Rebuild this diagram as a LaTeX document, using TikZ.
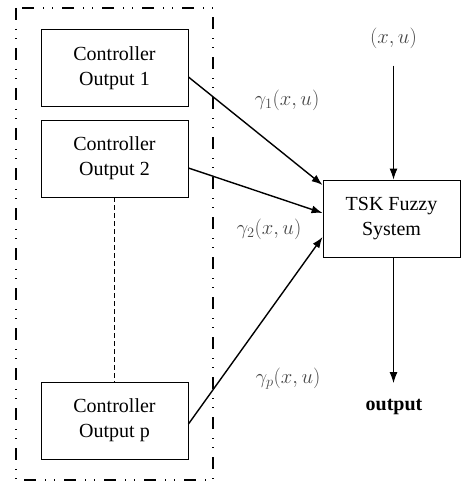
\documentclass[tikz,border=0pt]{standalone}
\usepackage{fontspec}
\setmainfont{Liberation Serif}
\usetikzlibrary{arrows.meta}
\begin{document}
\begin{tikzpicture}[x=1bp,y=-1bp,
  box/.style={draw,line width=0.9bp,minimum width=147bp,minimum height=77bp,align=center,inner sep=0pt,
    font=\fontsize{20bp}{25bp}\selectfont},
  conn/.style={line width=1.4bp,-{Latex[length=11bp,width=8bp]}},
  lbl/.style={text=black!72,font=\fontsize{20bp}{24bp}\selectfont,inner sep=0pt},
  frame/.style={line width=1.4bp,dash pattern=on 12bp off 9bp on 1.2bp off 8bp on 1.2bp off 8.6bp}]
\useasboundingbox (0,0) rectangle (465,482);
\draw[frame] (16,8) rectangle (213,480);
\node[box] (b1) at (114.5,68) {Controller\\Output 1};
\node[box] (b2) at (114.5,158.5) {Controller\\Output 2};
\node[box] (bp) at (114.5,420.5) {Controller\\Output p};
\node[box,minimum width=137bp] (t) at (391.5,218.5) {TSK Fuzzy\\System};
\node[lbl] (xu) at (393.5,38) {$(x,u)$};
\node[lbl] (g1) at (287,100) {$\gamma_1(x,u)$};
\node[lbl] (g2) at (269,229) {$\gamma_2(x,u)$};
\node[lbl] (gp) at (288,379) {$\gamma_p(x,u)$};
\node[inner sep=0pt,font=\fontsize{20bp}{24bp}\selectfont\bfseries] (out) at (394,407) {output};
\draw[line width=0.9bp,dash pattern=on 5bp off 3bp] (b2.south) -- (bp.north);
\draw[conn] ([yshift=-9bp]b1.east) -- ([yshift=33.5bp]t.west);
\draw[conn] ([yshift=-9.5bp]b2.east) -- ([yshift=5.5bp]t.west);
\draw[conn] ([yshift=-3.5bp]bp.east) -- ([yshift=-18.5bp]t.west);
\draw[line width=1bp,-{Latex[length=11bp,width=8bp]}] ([yshift=-17bp]xu.south) -- (xu.south |- t.north);
\draw[line width=1bp,-{Latex[length=11bp,width=8bp]}] (xu.south |- t.south) -- ([yshift=16bp]out.north -| xu.south);
\end{tikzpicture}
\end{document}
